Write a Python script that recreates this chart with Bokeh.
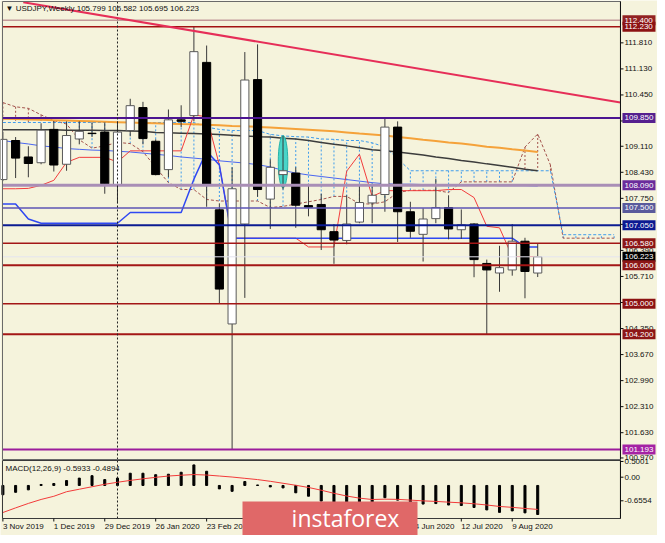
from bokeh.plotting import figure
from bokeh.models import ColumnDataSource, Range1d, Label, BoxAnnotation
from bokeh.core.properties import value
from bokeh.embed import file_html
from bokeh.resources import INLINE

# ---------------- data ----------------
week_idx = list(range(43))
opens = [108.24, 109.26, 108.83, 108.68, 109.55, 108.64, 109.30, 109.45, 109.48, 108.09,
         109.52, 110.12, 109.24, 108.50, 109.80, 109.91, 111.30, 107.45, 104.47, 107.08,
         110.85, 107.73, 108.37, 108.41, 107.56, 107.59, 106.88, 106.65, 107.13, 107.63,
         107.85, 109.61, 107.40, 106.81, 107.22, 107.51, 106.93, 107.08, 106.05, 105.80,
         105.88, 106.63, 105.799]
highs = [109.49, 109.35, 109.11, 109.71, 109.77, 109.76, 109.76, 109.73, 109.73, 109.76,
         110.35, 110.27, 109.29, 110.07, 110.18, 112.23, 111.74, 107.62, 108.56, 111.57,
         111.77, 108.77, 109.38, 108.56, 108.13, 107.87, 107.08, 107.83, 108.13, 108.13,
         109.85, 109.76, 107.66, 107.49, 108.26, 107.83, 107.46, 107.10, 106.15, 106.51,
         107.08, 106.72, 106.582]
lows = [108.20, 108.28, 108.30, 108.64, 108.45, 108.47, 109.16, 109.35, 107.87, 107.62,
        109.37, 109.16, 108.35, 108.30, 109.61, 109.76, 107.53, 105.01, 101.19, 105.15,
        107.79, 106.95, 107.98, 106.98, 107.28, 106.40, 106.04, 106.55, 107.10, 107.10,
        107.40, 106.61, 106.72, 106.10, 107.10, 106.68, 106.69, 105.69, 104.19, 105.31,
        105.73, 105.14, 105.695]
closes = [109.29, 108.80, 108.66, 109.53, 108.62, 109.39, 109.50, 109.44, 108.13, 109.48,
          110.17, 109.31, 108.37, 109.80, 109.76, 111.58, 108.09, 105.38, 108.00, 110.84,
          107.98, 108.56, 108.47, 107.57, 107.52, 106.93, 106.66, 107.08, 107.64, 107.83,
          109.61, 107.40, 106.89, 107.21, 107.51, 106.95, 107.06, 106.15, 105.88, 105.94,
          106.63, 105.84, 106.223]

tenkan = [108.00, 108.00, 108.01, 108.09, 108.22, 108.69, 108.82, 108.82, 108.82, 108.70,
          108.99, 108.99, 108.99, 108.99, 108.99, 109.93, 109.88, 108.62, 106.71, 106.71,
          106.71, 106.71, 106.71, 106.71, 106.48, 106.48, 106.48, 108.46, 108.90, 107.80,
          107.95, 107.95, 107.95, 107.95, 107.95, 107.98, 107.98, 107.77, 107.02, 106.98,
          106.23, 106.23, 106.23]
kijun = [107.60, 107.60, 107.21, 107.10, 107.10, 107.10, 107.10, 107.10, 107.10, 107.10,
         107.38, 107.38, 107.38, 107.38, 107.38, 108.25, 108.98, 108.62, 106.71, 106.71,
         106.71, 106.71, 106.71, 106.71, 106.71, 106.71, 106.71, 106.71, 106.71, 106.71,
         106.71, 106.71, 106.71, 106.71, 106.71, 106.71, 106.71, 106.71, 106.71, 106.71,
         106.71, 106.48, 106.48]
ma_orange = [109.83, 109.82, 109.81, 109.80, 109.79, 109.78, 109.77, 109.76, 109.75, 109.74,
             109.73, 109.72, 109.71, 109.70, 109.69, 109.685, 109.67, 109.66, 109.64, 109.63,
             109.615, 109.60, 109.58, 109.56, 109.54, 109.52, 109.50, 109.47, 109.44, 109.415,
             109.39, 109.35, 109.32, 109.28, 109.25, 109.21, 109.18, 109.14, 109.10, 109.07,
             109.03, 109.00, 108.96]
ma_dark = [109.54, 109.54, 109.54, 109.54, 109.54, 109.53, 109.53, 109.53, 109.52, 109.52,
           109.51, 109.50, 109.47, 109.46, 109.45, 109.44, 109.43, 109.42, 109.40, 109.38,
           109.36, 109.35, 109.32, 109.30, 109.26, 109.21, 109.16, 109.12, 109.07, 109.02,
           108.99, 108.96, 108.92, 108.88, 108.83, 108.79, 108.74, 108.70, 108.65, 108.61,
           108.56, 108.51, 108.47]
ma_blue = [109.26, 109.21, 109.17, 109.12, 109.09, 109.05, 109.03, 109.01, 109.00, 108.98,
           108.96, 108.93, 108.90, 108.87, 108.83, 108.80, 108.77, 108.73, 108.70, 108.67,
           108.63, 108.57, 108.48, 108.41, 108.36, 108.32, 108.28, 108.24, 108.20, 108.16,
           108.13, 108.12, 108.12, 108.11, 108.11, 108.10, 108.10, 108.09, 108.09, 108.08,
           108.08, 108.08, 108.07]

cloud_idx = list(range(49))
span_a = [110.25, 110.14, 110.10, 109.93, 109.78, 109.69, 109.28, 109.06, 109.12, 109.21,
          109.18, 108.97, 108.56, 108.16, 107.98, 107.98, 107.72, 107.68, 107.68, 107.68,
          107.68, 107.51, 107.54, 107.60, 107.66, 107.72, 107.80, 107.80, 107.61, 107.60,
          107.66, 107.90, 107.96, 107.96, 107.96, 107.90, 108.18, 108.18, 108.18, 108.18,
          108.18, 109.09, 109.43, 108.62, 106.71, 106.71, 106.71, 106.71, 106.71]
span_b = [109.73, 109.73, 109.73, 109.73, 109.73, 109.73, 109.73, 109.73, 109.73, 109.73,
          109.73, 109.73, 109.73, 109.73, 109.73, 109.73, 109.61, 109.55, 109.52, 109.52,
          109.52, 109.42, 109.38, 109.36, 109.35, 109.30, 109.29, 109.26, 109.26, 109.20,
          109.09, 108.79, 108.47, 108.47, 108.47, 108.47, 108.47, 108.47, 108.47, 108.47,
          108.47, 108.47, 108.47, 108.47, 106.80, 106.80, 106.80, 106.80, 106.80]

macd_main = [-0.19, -0.14, -0.09, 0.02, 0.04, 0.10, 0.15, 0.20, 0.12, 0.15,
             0.25, 0.25, 0.22, 0.23, 0.27, 0.42, 0.29, -0.07, -0.12, 0.08,
             0.01, -0.03, -0.05, -0.15, -0.22, -0.32, -0.41, -0.44, -0.43, -0.40,
             -0.25, -0.30, -0.36, -0.38, -0.37, -0.40, -0.41, -0.45, -0.50, -0.55,
             -0.52, -0.56, -0.5933]
macd_signal = [-0.553, -0.458, -0.367, -0.286, -0.221, -0.128, -0.077, -0.026, 0.024, 0.065,
               0.103, 0.136, 0.166, 0.193, 0.209, 0.223, 0.213, 0.193, 0.172, 0.146,
               0.120, 0.085, 0.045, 0.004, -0.041, -0.097, -0.160, -0.216, -0.259, -0.287,
               -0.280, -0.284, -0.299, -0.315, -0.326, -0.341, -0.355, -0.374, -0.399, -0.429,
               -0.447, -0.470, -0.4894]
macd_tick_pos = [0.49, 0.169, -0.313]
macd_tick_text = ["0.5001", "0.00", "-0.6554"]

date_tick_idx = [0, 4, 8, 12, 16, 20, 24, 28, 32, 36, 40]
date_tick_labels = ["3 Nov 2019", "1 Dec 2019", "29 Dec 2019", "26 Jan 2020", "23 Feb 2020",
                    "22 Mar 2020", "19 Apr 2020", "17 May 2020", "14 Jun 2020", "12 Jul 2020",
                    "9 Aug 2020"]

price_ticks = [100.97, 101.63, 102.31, 102.99, 103.67, 104.35, 105.03, 105.71, 106.39, 107.07,
               107.75, 108.43, 109.11, 109.77, 110.45, 111.13, 111.81]

level_values = [112.400, 112.230, 109.850, 108.090, 107.500, 107.050, 106.580, 106.223,
                106.000, 105.000, 104.200, 101.193]
level_line_colors = ["#c39a9a", "#a31212", "#4c1491", "#a98eb6", "#5c54b4", "#0b1b92",
                     "#a31616", "#e4e4ef", "#a31616", "#a31616", "#a31616", "#9c1c9c"]
level_line_widths = [1.5, 1.5, 2, 3, 1.5, 2, 1.5, 1, 2, 1.5, 2, 2]
level_box_colors = ["#922222", "#8c1212", "#55208f", "#6a2c9c", "#5a5a9c", "#0c1a92",
                    "#8c1616", "#000000", "#8c1616", "#8c1212", "#8c1616", "#a422a4"]

trend_idx = [1.6, 48.5]
trend_price = [112.87, 110.25]

year_sep_idx = 9
highlight_idx = [22]
highlight_mid = [108.705]
highlight_span = [1.37]

# ---------------- geometry / styling ----------------
BG = "#f5f3dc"
FONT = "Liberation Sans"
W, H = 657, 535
PXI = 12.734                       # px per week
X0 = -0.03 - 2 / PXI               # frame left
X1 = X0 + W / PXI
XL, AX = -0.03, 48.5               # chart area left edge / price-axis line
P_TOP, P_BOT = 112.89, 100.93      # main panel, px 1 .. 459
PPX = (P_TOP - P_BOT) / 458.0
PY1 = P_TOP + 1 * PPX
PY0 = PY1 - H * PPX
M_TOP, M_BOT = 0.51, -0.675        # macd panel, px 460 .. 518
MPX = (M_TOP - M_BOT) / 58.0
MY1 = M_TOP + 460 * MPX
MY0 = MY1 - H * MPX
TICK = 3 / PXI
LAB_X = AX + 4 / PXI
BOX_L, BOX_R = AX + 2 / PXI, AX + 35 / PXI
BOX_H = 5 * PPX

p = figure(frame_width=W, frame_height=H, x_range=Range1d(X0, X1), y_range=Range1d(PY0, PY1),
           x_axis_location=None, y_axis_location=None, min_border=0,
           output_backend="svg", toolbar_location=None,
           background_fill_color=BG, border_fill_color=BG)
p.grid.visible = False
p.outline_line_color = None
p.extra_y_ranges = {"macd": Range1d(MY0, MY1)}

txt = dict(text_font=value(FONT), text_font_size="8px", text_color="#111111",
           text_baseline="middle", text_align="left")

# --- Ichimoku cloud ---
hatch_col = ["#a3524c" if a > b else "#3f9cec" for a, b in zip(span_a, span_b)]
p.segment(x0=cloud_idx, y0=span_a, x1=cloud_idx, y1=span_b, line_color=hatch_col,
          line_dash="2 2", line_width=1)
p.line(cloud_idx, span_a, line_color="#a3524c", line_dash="3 2", line_width=1)
p.line(cloud_idx, span_b, line_color="#3f9cec", line_dash="3 2", line_width=1)

# --- moving averages ---
p.line(week_idx, ma_orange, line_color="#f5a23a", line_width=2)
p.line(week_idx, ma_dark, line_color="#3c3c3c", line_width=1.5)
p.line(week_idx, ma_blue, line_color="#4a66f0", line_width=1)

# --- tenkan / kijun ---
p.line(week_idx, tenkan, line_color="#f23c3c", line_width=1)
p.line(week_idx, kijun, line_color="#2f48f2", line_width=1.5)

# --- highlight ---
p.ellipse(x=highlight_idx, y=highlight_mid, width=0.75, height=highlight_span,
          fill_color="#3fd3c6", line_color="#27b3aa", fill_alpha=0.95)

# --- candles ---
up = [c >= o for o, c in zip(opens, closes)]
candles = ColumnDataSource(dict(
    x=week_idx, low=lows, high=highs,
    top=[max(o, c) for o, c in zip(opens, closes)],
    bottom=[min(o, c) for o, c in zip(opens, closes)],
    fill=["#ffffff" if u else "#000000" for u in up],
    edge=["#5a5a5a" if u else "#000000" for u in up],
))
p.segment(x0="x", y0="low", x1="x", y1="high", source=candles, line_color="#3a3a3a", line_width=1)
p.vbar(x="x", width=0.64, top="top", bottom="bottom", source=candles,
       fill_color="fill", line_color="edge", line_width=1)

# --- horizontal levels ---
n = len(level_values)
p.segment(x0=[XL] * n, x1=[AX] * n, y0=level_values, y1=level_values,
          line_color=level_line_colors, line_width=level_line_widths)

# --- year separator ---
p.segment(x0=[year_sep_idx], x1=[year_sep_idx], y0=[P_BOT], y1=[P_TOP],
          line_color="#222222", line_dash="2 2", line_width=1)

# --- trend line ---
p.line(trend_idx, trend_price, line_color="#e62e58", line_width=2)

# --- panel frames ---
p.quad(left=[XL], right=[AX], top=[P_TOP], bottom=[P_BOT], fill_color=None,
       line_color="#6a6a6a", line_width=1)

# --- price axis ---
p.segment(x0=[AX], x1=[AX], y0=[P_BOT], y1=[P_TOP], line_color="#111111", line_width=1)
p.segment(x0=[AX] * len(price_ticks), x1=[AX + TICK] * len(price_ticks),
          y0=price_ticks, y1=price_ticks, line_color="#111111")
p.text(x=[LAB_X] * len(price_ticks), y=price_ticks,
       text=[f"{t:.3f}" for t in price_ticks], **txt)

# --- level price boxes ---
p.quad(left=[BOX_L] * n, right=[BOX_R] * n,
       top=[v + BOX_H for v in level_values], bottom=[v - BOX_H for v in level_values],
       fill_color=level_box_colors, line_color=None)
p.text(x=[LAB_X] * n, y=level_values, text=[f"{v:.3f}" for v in level_values],
       text_font=value(FONT), text_font_size="8px", text_color="#ffffff",
       text_baseline="middle", text_align="left")

# ---------------- MACD panel ----------------
p.vbar(x=week_idx, width=0.16, top=macd_main, bottom=0, fill_color="#000000",
       line_color="#000000", y_range_name="macd")
p.line(week_idx, macd_signal, line_color="#f23a3a", line_width=1, y_range_name="macd")
p.segment(x0=[year_sep_idx], x1=[year_sep_idx], y0=[M_BOT], y1=[M_TOP],
          line_color="#222222", line_dash="2 2", line_width=1, y_range_name="macd")
p.quad(left=[XL], right=[AX], top=[M_TOP], bottom=[M_BOT], fill_color=None,
       line_color="#3a3a3a", line_width=1, y_range_name="macd")
p.segment(x0=[AX], x1=[AX], y0=[M_BOT], y1=[M_TOP], line_color="#111111",
          line_width=1, y_range_name="macd")
p.segment(x0=[AX] * 3, x1=[AX + TICK] * 3, y0=macd_tick_pos, y1=macd_tick_pos,
          line_color="#111111", y_range_name="macd")
p.text(x=[LAB_X] * 3, y=macd_tick_pos, text=macd_tick_text, y_range_name="macd", **txt)

# --- date axis ---
nd = len(date_tick_idx)
p.segment(x0=date_tick_idx, x1=date_tick_idx, y0=[M_BOT] * nd, y1=[M_BOT - 3 * MPX] * nd,
          line_color="#111111", y_range_name="macd")
p.text(x=date_tick_idx, y=[M_BOT - 8 * MPX] * nd, text=date_tick_labels,
       y_range_name="macd", **txt)

# --- texts ---
p.add_layout(Label(x=5, y=H - 3, x_units="screen", y_units="screen",
                   text="\u25bc USDJPY,Weekly  105.799 106.582 105.695 106.223",
                   text_font=FONT, text_font_size="8px", text_color="#111111",
                   text_baseline="top", text_align="left"))
p.add_layout(Label(x=5, y=H - 463, x_units="screen", y_units="screen",
                   text="MACD(12,26,9) -0.5933 -0.4894",
                   text_font=FONT, text_font_size="8px", text_color="#111111",
                   text_baseline="top", text_align="left"))

# --- watermark ---
p.add_layout(BoxAnnotation(left=242, right=417, top=34, bottom=0,
                           left_units="screen", right_units="screen",
                           top_units="screen", bottom_units="screen",
                           fill_color="#e06868", fill_alpha=1.0, line_color=None))
p.add_layout(Label(x=345, y=18, x_units="screen", y_units="screen", text="instaforex",
                   text_font="Open Sans", text_font_size="23px", text_color="#ffffff",
                   text_baseline="middle", text_align="center"))

open("out.html", "w").write(file_html(p, INLINE))
